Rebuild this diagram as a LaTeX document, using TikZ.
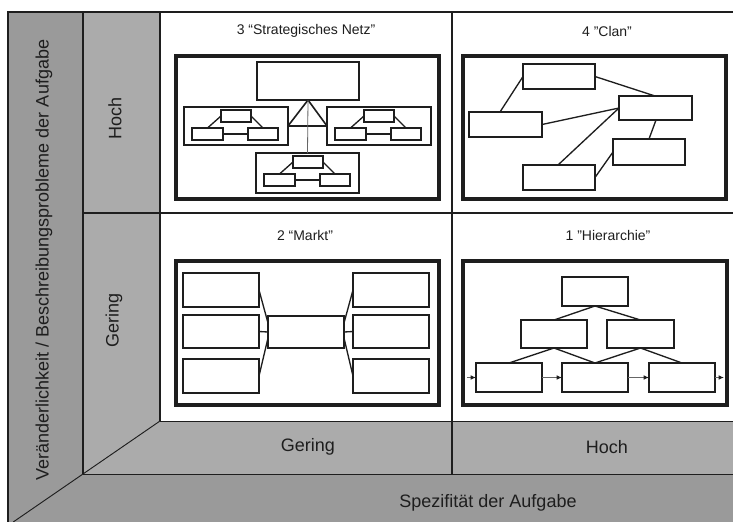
\documentclass[tikz,border=0pt]{standalone}
\usepackage{fontspec}
\setmainfont{Liberation Sans}
\usetikzlibrary{fit,calc,arrows.meta}
\definecolor{darkband}{HTML}{9A9A9A}
\definecolor{lightband}{HTML}{ABABAB}
\definecolor{ink}{HTML}{1E1E1E}

% small three-box group: top box linked to two lower boxes
\newcommand{\netcluster}[3]{%
  \node[smallbox, fit={({#2+37},{#3+3}) ({#2+67},{#3+15})}] (#1t) {};
  \node[smallbox, fit={({#2+8},{#3+21}) ({#2+39},{#3+33})}] (#1l) {};
  \node[smallbox, fit={({#2+64},{#3+21}) ({#2+94},{#3+33})}] (#1r) {};
  \draw[link] (#1l.east) -- (#1r.west);
  \draw[link] (#1t.west) -- (#1l.north);
  \draw[link] (#1t.east) -- (#1r.north);
}

\begin{document}
\begin{tikzpicture}[x=0.75pt,y=-0.75pt,
  box/.style={draw=ink, line width=1.3pt, inner sep=0pt, outer sep=0pt, fill=white},
  smallbox/.style={box, line width=1pt},
  frame/.style={draw=ink, line width=2.3pt, inner sep=0pt, outer sep=0pt},
  link/.style={draw=ink, line width=1pt},
  flow/.style={draw=black!60, line width=0.8pt, -{Latex[length=4pt,width=3.5pt,color=ink]}},
  axis/.style={text=ink, font=\fontsize{13.5}{16}\selectfont, inner sep=0pt},
  title/.style={text=ink, font=\fontsize{10.5}{12}\selectfont, inner sep=0pt},
  grid/.style={draw=ink, line width=1.5pt},
  hair/.style={draw=ink, line width=0.7pt}]

\useasboundingbox (0,0) rectangle (733,522);

% ---- background bands of the matrix ----
\fill[darkband] (8,12) rectangle (733,522);
\fill[lightband] (83,12) -- (160,12) -- (160,421) -- (733,421) -- (733,474) -- (83,474) -- cycle;
\fill[white] (160,12) rectangle (733,421);

\draw[hair] (160,421) -- (13.2,522);
\draw[hair] (160,421) -- (733,421);
\draw[hair] (83,474) -- (733,474);
\draw[grid] (83,12) -- (83,474);
\draw[grid] (160,12) -- (160,421);
\draw[grid] (452,12) -- (452,474);
\draw[grid] (83,213) -- (733,213);
\draw[grid] (8,522) -- (8,12) -- (733,12);

% ---- axis labels ----
\node[axis, rotate=90] (yaxis) at (44,260) {Veränderlichkeit / Beschreibungsprobleme der Aufgabe};
\node[axis, rotate=90] (yhigh) at (115,118) {Hoch};
\node[axis, rotate=90] (ylow) at (114,320) {Gering};
\node[axis] (xlow) at (308,447) {Gering};
\node[axis] (xhigh) at (607,447) {Hoch};
\node[axis] (xaxis) at (488,503) {Spezifität der Aufgabe};

% ---- 3 Strategisches Netz ----
\node[title] (t3) at (306,31) {3 “Strategisches Netz”};
\node[frame, fit={(176,56) (439,199)}] (f3) {};
\node[box, fit={(257,62) (359,100)}] (s0) {};
\node[box, fit={(184,107) (288,145)}] (sL) {};
\node[box, fit={(327,107) (431,145)}] (sR) {};
\node[box, fit={(256,153) (359,193)}] (sB) {};
\draw[link, line width=1.2pt] (s0.south) -- (sL.east);
\draw[link, line width=1.2pt] (s0.south) -- (sR.west);
\draw[link, line width=1.7pt] (sL.east) -- (sR.west);
\draw[draw=black!60, line width=0.6pt] (s0.south) -- (sB.north);
\netcluster{cl}{184}{107}
\netcluster{cr}{327}{107}
\netcluster{cb}{256}{153}

% ---- 4 Clan ----
\node[title] (t4) at (607,31) {4 "Clan"};
\node[frame, fit={(463,56) (726,199)}] (f4) {};
\node[box, fit={(523,64) (595,89)}] (cA) {};
\node[box, fit={(619,96) (692,120)}] (cB) {};
\node[box, fit={(469,112) (542,137)}] (cC) {};
\node[box, fit={(613,139) (685,165)}] (cD) {};
\node[box, fit={(523,165) (595,190)}] (cE) {};
\draw[link] ($(cC.north west)+(31,0)$) -- (cA.west);
\draw[link] (cA.east) -- ($(cB.north west)+(36,0)$);
\draw[link] (cC.east) -- (cB.west);
\draw[link] ($(cE.north west)+(35,0)$) -- (cB.west);
\draw[link] ($(cD.north west)+(36,0)$) -- ($(cB.south west)+(37,0)$);
\draw[link] (cE.east) -- (cD.west);

% ---- 2 Markt ----
\node[title] (t2) at (305,235) {2 “Markt”};
\node[frame, fit={(176,261) (439,405)}] (f2) {};
\node[box, fit={(183,273) (259,307)}] (mL1) {};
\node[box, fit={(183,315) (259,348)}] (mL2) {};
\node[box, fit={(183,359) (259,393)}] (mL3) {};
\node[box, fit={(353,273) (429,307)}] (mR1) {};
\node[box, fit={(353,315) (429,348)}] (mR2) {};
\node[box, fit={(353,359) (429,393)}] (mR3) {};
\node[box, fit={(268,316) (344,348)}] (mC) {};
\draw[link] (mL1.east) -- ($(mC.west)+(0,-9)$);
\draw[link] (mL2.east) -- (mC.west);
\draw[link] (mL3.east) -- ($(mC.west)+(0,6)$);
\draw[link] (mR1.west) -- ($(mC.east)+(0,-9)$);
\draw[link] (mR2.west) -- (mC.east);
\draw[link] (mR3.west) -- ($(mC.east)+(0,6)$);

% ---- 1 Hierarchie ----
\node[title] (t1) at (608,235) {1 "Hierarchie"};
\node[frame, fit={(463,261) (727,405)}] (f1) {};
\node[box, fit={(562,277) (628,306)}] (hT) {};
\node[box, fit={(521,320) (587,348)}] (hML) {};
\node[box, fit={(607,320) (674,348)}] (hMR) {};
\node[box, fit={(476,363) (542,392)}] (hB1) {};
\node[box, fit={(562,363) (628,392)}] (hB2) {};
\node[box, fit={(649,363) (715,392)}] (hB3) {};
\draw[link] (hT.south) -- (hML.north);
\draw[link] (hT.south) -- (hMR.north);
\draw[link] (hML.south) -- (hB1.north);
\draw[link] (hML.south) -- (hB2.north);
\draw[link] (hMR.south) -- (hB2.north);
\draw[link] (hMR.south) -- (hB3.north);
\coordinate (hin) at (467,377.5);
\coordinate (hout) at (724,377.5);
\draw[flow] (hin) -- (hB1.west);
\draw[flow] (hB1.east) -- (hB2.west);
\draw[flow] (hB2.east) -- (hB3.west);
\draw[flow] (hB3.east) -- (hout);

\end{tikzpicture}
\end{document}
